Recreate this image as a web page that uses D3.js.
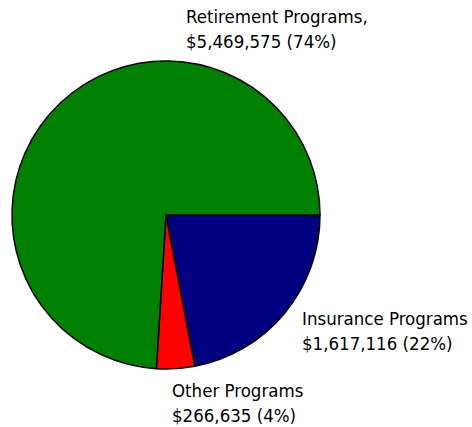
<!DOCTYPE html>
<html>
<head>
<meta charset="utf-8">
<script src="https://cdn.jsdelivr.net/npm/d3@7"></script>
<style>
  html, body { margin: 0; padding: 0; background: #fff; }
  text { font-family: "DejaVu Sans Condensed", "Liberation Sans Narrow", sans-serif; font-size: 18.5px; fill: #000; }
</style>
</head>
<body>
<svg id="chart" width="472" height="427"></svg>
<script>
// Program spending breakdown
const categories = ["Insurance Programs", "Other Programs", "Retirement Programs"];
const amounts = [1617116, 266635, 5469575];
const percents = [22, 4, 74];
const colors = ["#000080", "#ff0000", "#008000"];
const labelLines = [
  ["Insurance Programs", "$1,617,116 (22%)"],
  ["Other Programs", "$266,635 (4%)"],
  ["Retirement Programs,", "$5,469,575 (74%)"]
];
const labelPos = [[302, 325], [172, 397], [186, 23]];

const svg = d3.select("#chart");
const cx = 166, cy = 215, r = 154;

// slices sized by the stated percentages, starting at 3 o'clock, clockwise
const pie = d3.pie().sort(null).value(d => d)
  .startAngle(Math.PI / 2).endAngle(Math.PI / 2 + 2 * Math.PI);
const arc = d3.arc().innerRadius(0).outerRadius(r);

const g = svg.append("g").attr("transform", `translate(${cx},${cy})`);
g.selectAll("path")
  .data(pie(percents))
  .join("path")
  .attr("d", arc)
  .attr("fill", (d, i) => colors[i])
  .attr("stroke", "#000")
  .attr("stroke-width", 1.5)
  .attr("stroke-linejoin", "round");

labelLines.forEach((lines, i) => {
  const t = svg.append("text").attr("x", labelPos[i][0]).attr("y", labelPos[i][1]);
  lines.forEach((s, j) => {
    t.append("tspan").attr("x", labelPos[i][0]).attr("dy", j === 0 ? 0 : 24.5).text(s);
  });
});
</script>
</body>
</html>
